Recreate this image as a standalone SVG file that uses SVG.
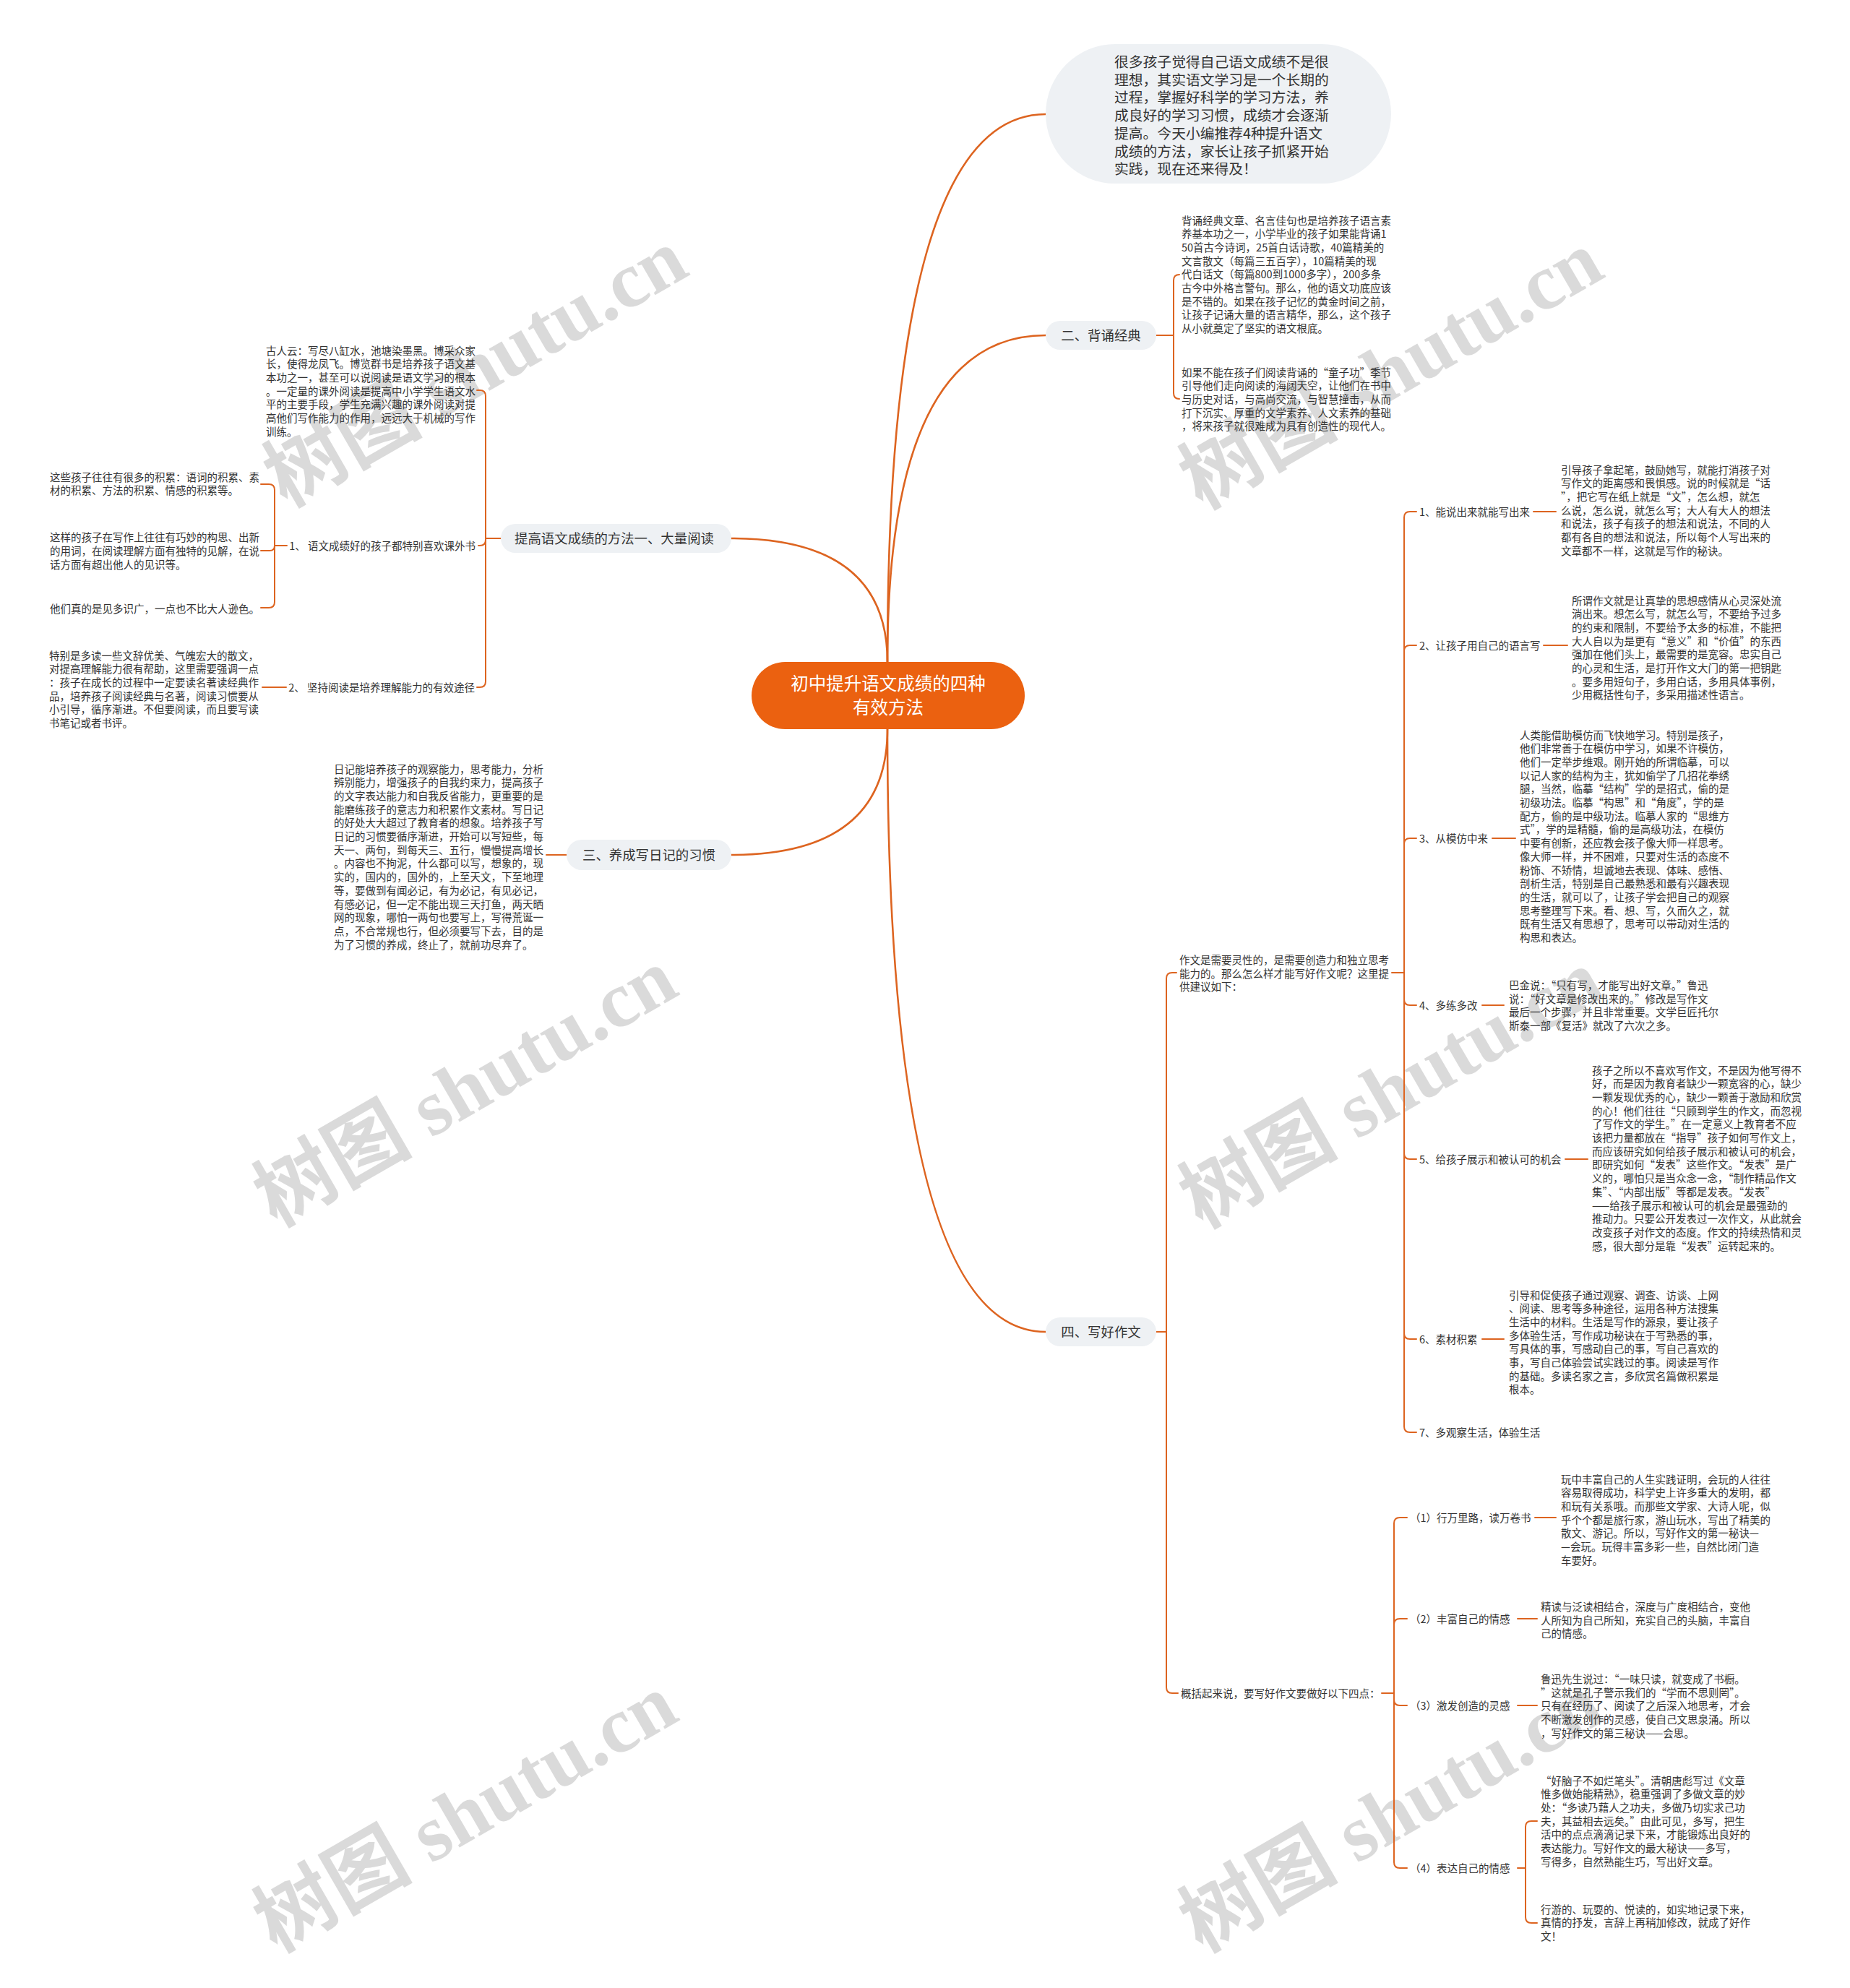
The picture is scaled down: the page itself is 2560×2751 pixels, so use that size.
<svg xmlns="http://www.w3.org/2000/svg" width="2560" height="2751" viewBox="0 0 2560 2751">
<style>
.bg{fill:#ffffff}
.wm{font-family:"Liberation Serif","Noto Sans CJK SC",serif;font-weight:bold;font-size:110px;fill:#bdbdbd;opacity:0.55}
.c{fill:none;stroke:#DD6420;stroke-width:2;stroke-linecap:round;stroke-linejoin:round}
.cm{stroke-width:2.6}
.t{font-family:"Noto Sans CJK SC","Noto Sans",sans-serif;font-size:14.5px;fill:#333333}
.bt{font-family:"Noto Sans CJK SC","Noto Sans",sans-serif;font-size:18.4px;fill:#333333;text-anchor:middle}
.pill{fill:#EEF1F4}
.it{font-family:"Noto Sans CJK SC","Noto Sans",sans-serif;font-size:19.8px;fill:#333333}
.ct{font-family:"Noto Sans CJK SC","Noto Sans",sans-serif;font-size:24.5px;fill:#ffffff;text-anchor:middle}
</style>
<rect class="bg" x="0" y="0" width="2560" height="2751"/>
<g id="watermarks">
<text class="wm" text-anchor="middle" transform="translate(658,509) rotate(-30)" y="37">树图 shutu.cn</text>
<text class="wm" text-anchor="middle" transform="translate(644,1505) rotate(-30)" y="37">树图 shutu.cn</text>
<text class="wm" text-anchor="middle" transform="translate(644,2509) rotate(-30)" y="37">树图 shutu.cn</text>
<text class="wm" text-anchor="middle" transform="translate(1925,512) rotate(-30)" y="37">树图 shutu.cn</text>
<text class="wm" text-anchor="middle" transform="translate(1925,1507) rotate(-30)" y="37">树图 shutu.cn</text>
<text class="wm" text-anchor="middle" transform="translate(1925,2509) rotate(-30)" y="37">树图 shutu.cn</text>
</g>
<g id="connectors">
<path class="c cm" d="M1228,916 Q1228,158 1447,158"/>
<path class="c cm" d="M1228,916 Q1228,464 1447,464"/>
<path class="c cm" d="M1228,916 Q1228,745 1012,745"/>
<path class="c cm" d="M1228,1009 Q1228,1183 1012,1183"/>
<path class="c cm" d="M1228,1009 Q1228,1843 1447,1843"/>
<path class="c" d="M1600,464 H1624 V388 Q1624,380 1632,380"/>
<path class="c" d="M1624,464 V544 Q1624,552 1632,552"/>
<path class="c" d="M693,745 H672 V548 Q672,540 664,540 H660"/>
<path class="c" d="M672,745 V747 Q672,755 664,755 H662"/>
<path class="c" d="M672,745 V943 Q672,951 664,951 H660"/>
<path class="c" d="M397,755 H380 V678 Q380,670 372,670 H361"/>
<path class="c" d="M380,755 Q380,762 373,762 H361"/>
<path class="c" d="M380,755 V833 Q380,841 372,841 H361"/>
<path class="c" d="M396,951 H363"/>
<path class="c" d="M784,1183 H756"/>
<path class="c" d="M1600,1843 H1614 V1354 Q1614,1346 1622,1346 H1628"/>
<path class="c" d="M1614,1843 V2335 Q1614,2343 1622,2343 H1630"/>
<path class="c" d="M1926,1346 H1943 V716 Q1943,708 1951,708 H1960"/>
<path class="c" d="M1943,1346 V901 Q1943,893 1951,893 H1960"/>
<path class="c" d="M1943,1346 V1168 Q1943,1160 1951,1160 H1960"/>
<path class="c" d="M1943,1346 V1383 Q1943,1391 1951,1391 H1960"/>
<path class="c" d="M1943,1346 V1596 Q1943,1604 1951,1604 H1960"/>
<path class="c" d="M1943,1346 V1845 Q1943,1853 1951,1853 H1960"/>
<path class="c" d="M1943,1346 V1974 Q1943,1982 1951,1982 H1960"/>
<path class="c" d="M2122,708 H2153"/>
<path class="c" d="M2136,893 H2169"/>
<path class="c" d="M2065,1160 H2097"/>
<path class="c" d="M2051,1391 H2081"/>
<path class="c" d="M2166,1604 H2197"/>
<path class="c" d="M2051,1853 H2081"/>
<path class="c" d="M1912,2343 H1929 V2108 Q1929,2100 1937,2100 H1947"/>
<path class="c" d="M1929,2343 V2248 Q1929,2240 1937,2240 H1947"/>
<path class="c" d="M1929,2343 V2352 Q1929,2360 1937,2360 H1947"/>
<path class="c" d="M1929,2343 V2577 Q1929,2585 1937,2585 H1947"/>
<path class="c" d="M2124,2100 H2153"/>
<path class="c" d="M2100,2240 H2127"/>
<path class="c" d="M2100,2360 H2127"/>
<path class="c" d="M2100,2585 H2111 V2528 Q2111,2520 2119,2520 H2127"/>
<path class="c" d="M2111,2585 V2653 Q2111,2661 2119,2661 H2127"/>
</g>
<g id="node-center">
<rect x="1040" y="916" width="378" height="93" rx="46.5" fill="#EB6110"/>
<text class="ct"><tspan x="1229" y="955">初中提升语文成绩的四种</tspan><tspan x="1229" y="988">有效方法</tspan></text>
</g>
<g id="node-intro">
<rect class="pill" x="1447" y="61" width="478" height="193" rx="96.5"/>
<text class="it"><tspan x="1542" y="93">很多孩子觉得自己语文成绩不是很</tspan><tspan x="1542" y="117.7">理想，其实语文学习是一个长期的</tspan><tspan x="1542" y="142.4">过程，掌握好科学的学习方法，养</tspan><tspan x="1542" y="167.1">成良好的学习习惯，成绩才会逐渐</tspan><tspan x="1542" y="191.8">提高。今天小编推荐4种提升语文</tspan><tspan x="1542" y="216.5">成绩的方法，家长让孩子抓紧开始</tspan><tspan x="1542" y="241.2">实践，现在还来得及！</tspan></text>
</g>
<g id="node-recite">
<rect class="pill" x="1447" y="444" width="153" height="40" rx="20"/>
<text class="bt" x="1523.5" y="470.5">二、背诵经典</text>
</g>
<g id="node-recite-1">
<text class="t"><tspan x="1635" y="310.5">背诵经典文章、名言佳句也是培养孩子语言素</tspan><tspan x="1635" y="329.2">养基本功之一，小学毕业的孩子如果能背诵1</tspan><tspan x="1635" y="347.9">50首古今诗词，25首白话诗歌，40篇精美的</tspan><tspan x="1635" y="366.6">文言散文（每篇三五百字），10篇精美的现</tspan><tspan x="1635" y="385.3">代白话文（每篇800到1000多字），200多条</tspan><tspan x="1635" y="404">古今中外格言警句。那么，他的语文功底应该</tspan><tspan x="1635" y="422.7">是不错的。如果在孩子记忆的黄金时间之前，</tspan><tspan x="1635" y="441.4">让孩子记诵大量的语言精华，那么，这个孩子</tspan><tspan x="1635" y="460.1">从小就奠定了坚实的语文根底。</tspan></text>
</g>
<g id="node-recite-2">
<text class="t"><tspan x="1635" y="520.5">如果不能在孩子们阅读背诵的“童子功”季节</tspan><tspan x="1635" y="539.2">引导他们走向阅读的海阔天空，让他们在书中</tspan><tspan x="1635" y="557.9">与历史对话，与高尚交流，与智慧撞击，从而</tspan><tspan x="1635" y="576.6">打下沉实、厚重的文学素养、人文素养的基础</tspan><tspan x="1635" y="595.3">，将来孩子就很难成为具有创造性的现代人。</tspan></text>
</g>
<g id="node-read">
<rect class="pill" x="693" y="725" width="319" height="40" rx="20"/>
<text class="bt" x="850" y="751.5">提高语文成绩的方法一、大量阅读</text>
</g>
<g id="node-read-a">
<text class="t"><tspan x="368" y="490.5">古人云：写尽八缸水，池塘染墨黑。博采众家</tspan><tspan x="368" y="509.2">长，使得龙凤飞。博览群书是培养孩子语文基</tspan><tspan x="368" y="527.9">本功之一，甚至可以说阅读是语文学习的根本</tspan><tspan x="368" y="546.6">。一定量的课外阅读是提高中小学学生语文水</tspan><tspan x="368" y="565.3">平的主要手段，学生充满兴趣的课外阅读对提</tspan><tspan x="368" y="584">高他们写作能力的作用，远远大于机械的写作</tspan><tspan x="368" y="602.7">训练。</tspan></text>
</g>
<g id="node-read-b">
<text class="t" x="658" y="760.5" text-anchor="end">1、 语文成绩好的孩子都特别喜欢课外书</text>
</g>
<g id="node-read-b1">
<text class="t"><tspan x="69" y="665.5">这些孩子往往有很多的积累：语词的积累、素</tspan><tspan x="69" y="684.2">材的积累、方法的积累、情感的积累等。</tspan></text>
</g>
<g id="node-read-b2">
<text class="t"><tspan x="69" y="749.2">这样的孩子在写作上往往有巧妙的构思、出新</tspan><tspan x="69" y="767.9">的用词，在阅读理解方面有独特的见解，在说</tspan><tspan x="69" y="786.6">话方面有超出他人的见识等。</tspan></text>
</g>
<g id="node-read-b3">
<text class="t" x="69" y="847.5">他们真的是见多识广，一点也不比大人逊色。</text>
</g>
<g id="node-read-c">
<text class="t" x="657" y="957" text-anchor="end">2、 坚持阅读是培养理解能力的有效途径</text>
</g>
<g id="node-read-c1">
<text class="t"><tspan x="68" y="912.5">特别是多读一些文辞优美、气魄宏大的散文，</tspan><tspan x="68" y="931.2">对提高理解能力很有帮助，这里需要强调一点</tspan><tspan x="68" y="949.9">：孩子在成长的过程中一定要读名著读经典作</tspan><tspan x="68" y="968.6">品，培养孩子阅读经典与名著，阅读习惯要从</tspan><tspan x="68" y="987.3">小引导，循序渐进。不但要阅读，而且要写读</tspan><tspan x="68" y="1006">书笔记或者书评。</tspan></text>
</g>
<g id="node-diary">
<rect class="pill" x="784" y="1162" width="228" height="42" rx="21"/>
<text class="bt" x="898" y="1189.5">三、养成写日记的习惯</text>
</g>
<g id="node-diary-1">
<text class="t"><tspan x="462" y="1069.5">日记能培养孩子的观察能力，思考能力，分析</tspan><tspan x="462" y="1088.2">辨别能力，增强孩子的自我约束力，提高孩子</tspan><tspan x="462" y="1106.9">的文字表达能力和自我反省能力，更重要的是</tspan><tspan x="462" y="1125.6">能磨练孩子的意志力和积累作文素材。写日记</tspan><tspan x="462" y="1144.3">的好处大大超过了教育者的想象。培养孩子写</tspan><tspan x="462" y="1163">日记的习惯要循序渐进，开始可以写短些，每</tspan><tspan x="462" y="1181.7">天一、两句，到每天三、五行，慢慢提高增长</tspan><tspan x="462" y="1200.4">。内容也不拘泥，什么都可以写，想象的，现</tspan><tspan x="462" y="1219.1">实的，国内的，国外的，上至天文，下至地理</tspan><tspan x="462" y="1237.8">等，要做到有闻必记，有为必记，有见必记，</tspan><tspan x="462" y="1256.5">有感必记，但一定不能出现三天打鱼，两天晒</tspan><tspan x="462" y="1275.2">网的现象，哪怕一两句也要写上，写得荒诞一</tspan><tspan x="462" y="1293.9">点，不合常规也行，但必须要写下去，目的是</tspan><tspan x="462" y="1312.6">为了习惯的养成，终止了，就前功尽弃了。</tspan></text>
</g>
<g id="node-write">
<rect class="pill" x="1447" y="1823" width="153" height="40" rx="20"/>
<text class="bt" x="1523.5" y="1849.5">四、写好作文</text>
</g>
<g id="node-write-a">
<text class="t"><tspan x="1632" y="1334">作文是需要灵性的，是需要创造力和独立思考</tspan><tspan x="1632" y="1352.7">能力的。那么怎么样才能写好作文呢？这里提</tspan><tspan x="1632" y="1371.4">供建议如下：</tspan></text>
</g>
<g id="node-write-a1">
<text class="t" x="1964" y="713.5">1、能说出来就能写出来</text>
<text class="t"><tspan x="2160" y="655.5">引导孩子拿起笔，鼓励她写，就能打消孩子对</tspan><tspan x="2160" y="674.2">写作文的距离感和畏惧感。说的时候就是“话</tspan><tspan x="2160" y="692.9">”，把它写在纸上就是“文”，怎么想，就怎</tspan><tspan x="2160" y="711.6">么说，怎么说，就怎么写；大人有大人的想法</tspan><tspan x="2160" y="730.3">和说法，孩子有孩子的想法和说法，不同的人</tspan><tspan x="2160" y="749">都有各自的想法和说法，所以每个人写出来的</tspan><tspan x="2160" y="767.7">文章都不一样，这就是写作的秘诀。</tspan></text>
</g>
<g id="node-write-a2">
<text class="t" x="1964" y="898.5">2、让孩子用自己的语言写</text>
<text class="t"><tspan x="2175" y="836.5">所谓作文就是让真挚的思想感情从心灵深处流</tspan><tspan x="2175" y="855.2">淌出来。想怎么写，就怎么写，不要给予过多</tspan><tspan x="2175" y="873.9">的约束和限制，不要给予太多的标准，不能把</tspan><tspan x="2175" y="892.6">大人自以为是更有“意义”和“价值”的东西</tspan><tspan x="2175" y="911.3">强加在他们头上，最需要的是宽容。忠实自己</tspan><tspan x="2175" y="930">的心灵和生活，是打开作文大门的第一把钥匙</tspan><tspan x="2175" y="948.7">。要多用短句子，多用白话，多用具体事例，</tspan><tspan x="2175" y="967.4">少用概括性句子，多采用描述性语言。</tspan></text>
</g>
<g id="node-write-a3">
<text class="t" x="1964" y="1165.5">3、从模仿中来</text>
<text class="t"><tspan x="2103" y="1022.5">人类能借助模仿而飞快地学习。特别是孩子，</tspan><tspan x="2103" y="1041.2">他们非常善于在模仿中学习，如果不许模仿，</tspan><tspan x="2103" y="1059.9">他们一定举步维艰。刚开始的所谓临摹，可以</tspan><tspan x="2103" y="1078.6">以记人家的结构为主，犹如偷学了几招花拳绣</tspan><tspan x="2103" y="1097.3">腿，当然，临摹“结构”学的是招式，偷的是</tspan><tspan x="2103" y="1116">初级功法。临摹“构思”和“角度”，学的是</tspan><tspan x="2103" y="1134.7">配方，偷的是中级功法。临摹人家的“思维方</tspan><tspan x="2103" y="1153.4">式”，学的是精髓，偷的是高级功法，在模仿</tspan><tspan x="2103" y="1172.1">中要有创新，还应教会孩子像大师一样思考。</tspan><tspan x="2103" y="1190.8">像大师一样，并不困难，只要对生活的态度不</tspan><tspan x="2103" y="1209.5">粉饰、不矫情，坦诚地去表现、体味、感悟、</tspan><tspan x="2103" y="1228.2">剖析生活，特别是自己最熟悉和最有兴趣表现</tspan><tspan x="2103" y="1246.9">的生活，就可以了，让孩子学会把自己的观察</tspan><tspan x="2103" y="1265.6">思考整理写下来。看、想、写，久而久之，就</tspan><tspan x="2103" y="1284.3">既有生活又有思想了，思考可以带动对生活的</tspan><tspan x="2103" y="1303">构思和表达。</tspan></text>
</g>
<g id="node-write-a4">
<text class="t" x="1964" y="1396.5">4、多练多改</text>
<text class="t"><tspan x="2088" y="1369">巴金说：“只有写，才能写出好文章。”鲁迅</tspan><tspan x="2088" y="1387.7">说：“好文章是修改出来的。”修改是写作文</tspan><tspan x="2088" y="1406.4">最后一个步骤，并且非常重要。文学巨匠托尔</tspan><tspan x="2088" y="1425.1">斯泰一部《复活》就改了六次之多。</tspan></text>
</g>
<g id="node-write-a5">
<text class="t" x="1964" y="1609.5">5、给孩子展示和被认可的机会</text>
<text class="t"><tspan x="2203" y="1486.5">孩子之所以不喜欢写作文，不是因为他写得不</tspan><tspan x="2203" y="1505.2">好，而是因为教育者缺少一颗宽容的心，缺少</tspan><tspan x="2203" y="1523.9">一颗发现优秀的心，缺少一颗善于激励和欣赏</tspan><tspan x="2203" y="1542.6">的心！他们往往“只顾到学生的作文，而忽视</tspan><tspan x="2203" y="1561.3">了写作文的学生。”在一定意义上教育者不应</tspan><tspan x="2203" y="1580">该把力量都放在“指导”孩子如何写作文上，</tspan><tspan x="2203" y="1598.7">而应该研究如何给孩子展示和被认可的机会，</tspan><tspan x="2203" y="1617.4">即研究如何“发表”这些作文。“发表”是广</tspan><tspan x="2203" y="1636.1">义的，哪怕只是当众念一念，“制作精品作文</tspan><tspan x="2203" y="1654.8">集”、“内部出版”等都是发表。“发表”</tspan><tspan x="2203" y="1673.5">——给孩子展示和被认可的机会是最强劲的</tspan><tspan x="2203" y="1692.2">推动力。只要公开发表过一次作文，从此就会</tspan><tspan x="2203" y="1710.9">改变孩子对作文的态度。作文的持续热情和灵</tspan><tspan x="2203" y="1729.6">感，很大部分是靠“发表”运转起来的。</tspan></text>
</g>
<g id="node-write-a6">
<text class="t" x="1964" y="1858.5">6、素材积累</text>
<text class="t"><tspan x="2088" y="1797.5">引导和促使孩子通过观察、调查、访谈、上网</tspan><tspan x="2088" y="1816.2">、阅读、思考等多种途径，运用各种方法搜集</tspan><tspan x="2088" y="1834.9">生活中的材料。生活是写作的源泉，要让孩子</tspan><tspan x="2088" y="1853.6">多体验生活，写作成功秘诀在于写熟悉的事，</tspan><tspan x="2088" y="1872.3">写具体的事，写感动自己的事，写自己喜欢的</tspan><tspan x="2088" y="1891">事，写自己体验尝试实践过的事。阅读是写作</tspan><tspan x="2088" y="1909.7">的基础。多读名家之言，多欣赏名篇做积累是</tspan><tspan x="2088" y="1928.4">根本。</tspan></text>
</g>
<g id="node-write-a7">
<text class="t" x="1964" y="1987.5">7、多观察生活，体验生活</text>
</g>
<g id="node-write-b">
<text class="t" x="1634" y="2348.5">概括起来说，要写好作文要做好以下四点：</text>
</g>
<g id="node-write-b1">
<text class="t" x="1951" y="2105.5">（1）行万里路，读万卷书</text>
<text class="t"><tspan x="2160" y="2052.5">玩中丰富自己的人生实践证明，会玩的人往往</tspan><tspan x="2160" y="2071.2">容易取得成功，科学史上许多重大的发明，都</tspan><tspan x="2160" y="2089.9">和玩有关系哦。而那些文学家、大诗人呢，似</tspan><tspan x="2160" y="2108.6">乎个个都是旅行家，游山玩水，写出了精美的</tspan><tspan x="2160" y="2127.3">散文、游记。所以，写好作文的第一秘诀—</tspan><tspan x="2160" y="2146">—会玩。玩得丰富多彩一些，自然比闭门造</tspan><tspan x="2160" y="2164.7">车要好。</tspan></text>
</g>
<g id="node-write-b2">
<text class="t" x="1951" y="2245.5">（2）丰富自己的情感</text>
<text class="t"><tspan x="2132" y="2229">精读与泛读相结合，深度与广度相结合，变他</tspan><tspan x="2132" y="2247.7">人所知为自己所知，充实自己的头脑，丰富自</tspan><tspan x="2132" y="2266.4">己的情感。</tspan></text>
</g>
<g id="node-write-b3">
<text class="t" x="1951" y="2365.5">（3）激发创造的灵感</text>
<text class="t"><tspan x="2132" y="2329">鲁迅先生说过：“一味只读，就变成了书橱。</tspan><tspan x="2132" y="2347.7">”这就是孔子警示我们的“学而不思则罔”。</tspan><tspan x="2132" y="2366.4">只有在经历了、阅读了之后深入地思考，才会</tspan><tspan x="2132" y="2385.1">不断激发创作的灵感，使自己文思泉涌。所以</tspan><tspan x="2132" y="2403.8">，写好作文的第三秘诀——会思。</tspan></text>
</g>
<g id="node-write-b4">
<text class="t" x="1951" y="2590.5">（4）表达自己的情感</text>
<text class="t"><tspan x="2132" y="2469.5">“好脑子不如烂笔头”。清朝唐彪写过《文章</tspan><tspan x="2132" y="2488.2">惟多做始能精熟》，稳重强调了多做文章的妙</tspan><tspan x="2132" y="2506.9">处：“多读乃藉人之功夫，多做乃切实求己功</tspan><tspan x="2132" y="2525.6">夫，其益相去远矣。”由此可见，多写，把生</tspan><tspan x="2132" y="2544.3">活中的点点滴滴记录下来，才能锻炼出良好的</tspan><tspan x="2132" y="2563">表达能力。写好作文的最大秘诀——多写，</tspan><tspan x="2132" y="2581.7">写得多，自然熟能生巧，写出好文章。</tspan></text>
<text class="t"><tspan x="2132" y="2647.5">行游的、玩耍的、悦读的，如实地记录下来，</tspan><tspan x="2132" y="2666.2">真情的抒发，言辞上再稍加修改，就成了好作</tspan><tspan x="2132" y="2684.9">文！</tspan></text>
</g>
</svg>
